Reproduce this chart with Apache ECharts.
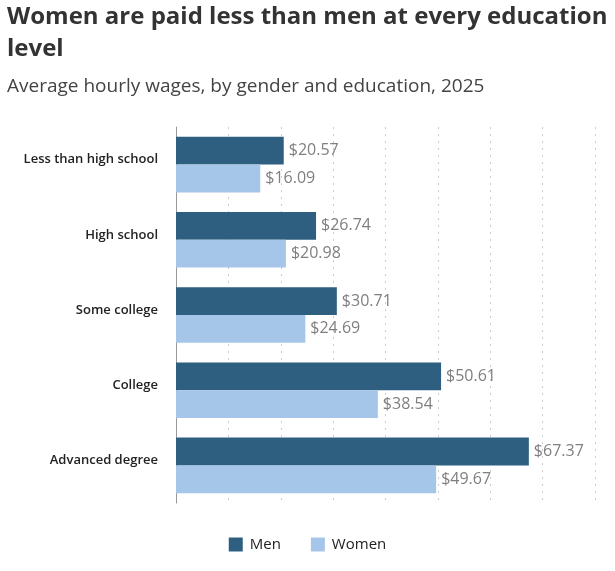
<!DOCTYPE html>
<html lang="en">
<head>
    <meta charset="UTF-8">
    <title>Hourly wages by gender and education</title>
    <script src="https://cdn.jsdelivr.net/npm/echarts@6/dist/echarts.min.js"></script>
    <style>
        html, body { margin: 0; padding: 0; background: #fff; }
        #main { width: 615px; height: 571px; }
    </style>
</head>
<body>
    <div id="main"></div>
    <script>
        var categories = ['Less than high school', 'High school', 'Some college', 'College', 'Advanced degree'];
        var menWages = [20.57, 26.74, 30.71, 50.61, 67.37];
        var womenWages = [16.09, 20.98, 24.69, 38.54, 49.67];

        var chart = echarts.init(document.getElementById('main'));

        var valueLabel = {
            show: true,
            position: 'right',
            distance: 5,
            color: '#7f7f7f',
            fontSize: 16,
            fontFamily: 'Open Sans',
            formatter: function (p) { return '$' + p.value.toFixed(2); }
        };

        var option = {
            animation: false,
            backgroundColor: '#fff',
            textStyle: { fontFamily: 'Open Sans' },
            title: {
                text: 'Women are paid less than men at every education\nlevel',
                subtext: 'Average hourly wages, by gender and education, 2025',
                left: 2,
                top: -4,
                itemGap: 12,
                textStyle: { fontSize: 24, fontWeight: 'bold', color: '#333', lineHeight: 32, fontFamily: 'Open Sans' },
                subtextStyle: { fontSize: 19, color: '#444', fontFamily: 'Open Sans' }
            },
            legend: {
                bottom: 14,
                left: 'center',
                itemWidth: 14,
                itemHeight: 14,
                itemGap: 30,
                icon: 'rect',
                textStyle: { fontSize: 15, color: '#222', padding: [0, 0, 0, 2] },
                data: ['Men', 'Women']
            },
            grid: { left: 176, right: 20, top: 127, bottom: 68, containLabel: false },
            xAxis: {
                type: 'value',
                min: 0,
                max: 80,
                interval: 10,
                axisLabel: { show: false },
                axisLine: { show: false },
                axisTick: { show: false },
                splitLine: { show: true, lineStyle: { type: [2, 5], color: '#ccc', width: 1 } }
            },
            yAxis: {
                type: 'category',
                inverse: true,
                data: categories,
                axisLine: { show: true, lineStyle: { color: '#999' } },
                axisTick: { show: false },
                axisLabel: { color: '#222', fontSize: 13, fontWeight: 600, margin: 18, verticalAlign: 'bottom', lineHeight: 10 }
            },
            series: [
                {
                    name: 'Men',
                    type: 'bar',
                    data: menWages,
                    itemStyle: { color: '#2e5f80' },
                    barGap: '0%',
                    barCategoryGap: '26%',
                    label: valueLabel
                },
                {
                    name: 'Women',
                    type: 'bar',
                    data: womenWages,
                    itemStyle: { color: '#a5c6e8' },
                    label: valueLabel
                }
            ]
        };

        chart.setOption(option);
    </script>
</body>
</html>
